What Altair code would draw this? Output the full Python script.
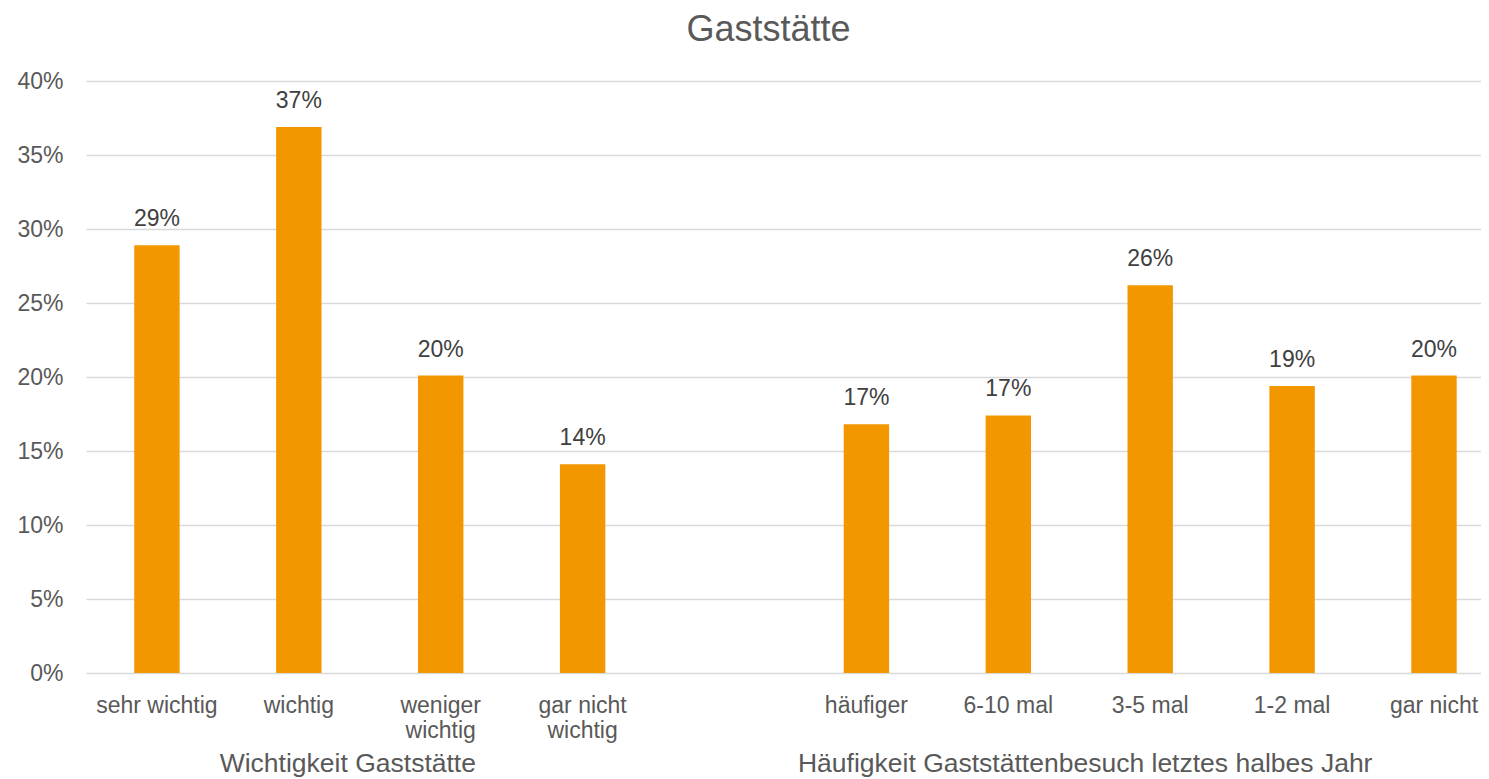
import altair as alt
import pandas as pd

chart_title = "Gaststätte"
categories = ["sehr wichtig", "wichtig", "weniger\nwichtig", "gar nicht\nwichtig",
              "häufiger", "6-10 mal", "3-5 mal", "1-2 mal", "gar nicht"]
values = [0.289, 0.369, 0.201, 0.141, 0.168, 0.174, 0.262, 0.194, 0.201]
gap_slot = " "
x_domain = categories[:4] + [gap_slot] + categories[4:]
group_names = ["Wichtigkeit Gaststätte", "Häufigkeit Gaststättenbesuch letztes halbes Jahr"]
group_anchors = ["wichtig", "3-5 mal"]
y_ticks = [0, 0.05, 0.10, 0.15, 0.20, 0.25, 0.30, 0.35, 0.40]

FONT = "Liberation Sans"
BAR = "#F29700"

df = pd.DataFrame({"cat": categories, "val": values})

x_scale = alt.Scale(domain=x_domain, paddingInner=0.68, paddingOuter=0.2555, align=0.665)
x_enc = alt.X("cat:N", scale=x_scale, sort=x_domain,
              axis=alt.Axis(title=None, labelAngle=0, ticks=False, tickSize=0, domain=False,
                            grid=False, labelFont=FONT, labelFontSize=23, labelColor="#595959",
                            labelBaseline="alphabetic", labelPadding=39, labelLineHeight=25,
                            labelExpr="split(datum.label, '\\n')", labelOverlap=False))
y_enc = alt.Y("val:Q", scale=alt.Scale(domain=[0, 0.40], nice=False),
              axis=alt.Axis(title=None, values=y_ticks, format=".0%", ticks=False, tickSize=0,
                            domain=False, grid=True, gridColor="#D9D9D9", gridWidth=1.5,
                            labelFont=FONT, labelFontSize=23, labelColor="#595959",
                            labelPadding=23))

bars = alt.Chart(df).mark_bar(color=BAR).encode(x=x_enc, y=y_enc)

labels = alt.Chart(df).mark_text(font=FONT, fontSize=23, color="#404040",
                                 baseline="alphabetic", dy=-19).encode(
    x=alt.X("cat:N", scale=x_scale, sort=x_domain),
    y=alt.Y("val:Q"),
    text=alt.Text("val:Q", format=".0%"),
)

g1 = alt.Chart(pd.DataFrame({"cat": [group_anchors[0]], "t": [group_names[0]]})).mark_text(
    font=FONT, fontSize=26.5, color="#595959", baseline="alphabetic", dx=49).encode(
    x=alt.X("cat:N", scale=x_scale, sort=x_domain), y=alt.value(691), text="t:N")
g2 = alt.Chart(pd.DataFrame({"cat": [group_anchors[1]], "t": [group_names[1]]})).mark_text(
    font=FONT, fontSize=26.5, color="#595959", baseline="alphabetic", dx=-65).encode(
    x=alt.X("cat:N", scale=x_scale, sort=x_domain), y=alt.value(691), text="t:N")

chart = alt.layer(bars, labels, g1, g2).properties(
    width=1395, height=592,
    title=alt.TitleParams(chart_title, font=FONT, fontSize=36, fontWeight="normal",
                          color="#595959", anchor="middle", dx=-15, offset=21),
    autosize=alt.AutoSizeParams(type="none"),
    padding={"left": 78, "top": 73, "right": 0, "bottom": 106},
).configure_view(stroke=None)

chart.save("out.html", embed_options={"renderer": "svg", "actions": False})
